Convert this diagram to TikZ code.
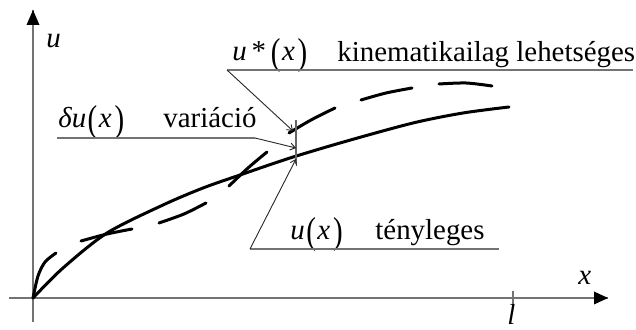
\documentclass[tikz,border=0pt]{standalone}
\usepackage{fontspec}
\usepackage{graphicx}
\setmainfont{Liberation Serif}
\usetikzlibrary{arrows.meta}
\newcommand\pa[1]{\raisebox{-0.12em}{\scalebox{1}[1.3]{#1}}}
\begin{document}
\begin{tikzpicture}[x=0.5pt,y=-0.5pt,
  lbl/.style={anchor=base west,inner sep=0pt,font=\fontsize{14.45}{17}\selectfont},
  axis/.style={draw=black!55,line width=0.75pt},
  uline/.style={draw=black!55,line width=0.75pt},
  leader/.style={draw=black!85,line width=0.45pt,-{Straight Barb[length=2.5pt,width=3.5pt]}},
  curve/.style={line width=1.5pt,line cap=round,line join=round}]
\useasboundingbox (0,0) rectangle (636,330);
% axes
\coordinate (O) at (33,298);
\coordinate (ybot) at (33,322);
\coordinate (ytop) at (33,10);
\coordinate (xl) at (9,298);
\coordinate (xr) at (608,298);
\draw[axis] (ybot) -- (ytop);
\draw[axis] (xl) -- (xr);
\fill[black] (ytop) -- ++(-6.5,15) -- ++(13,0) -- cycle;
\fill[black] (xr) -- ++(-14,-6.5) -- ++(0,13) -- cycle;
\coordinate (t1) at (513,291);
\coordinate (t2) at (513,304);
\draw[axis] (t1) -- (t2);
\node[lbl] (ulab) at (46,48) {\textit{u}};
\node[lbl] (xlab) at (578,285) {\textit{x}};
\node[lbl] (llab) at (507,325) {\textit{l}};
% solid curve
\draw[curve] plot[smooth] coordinates {(33,298) (63,268) (107,233) (163,205) (203,188) (240,175) (290,158) (347,141) (413,123) (463,113) (509,107)};
% dashed curve
\draw[curve] plot[smooth] coordinates {(33,298) (38,276) (45,262) (56,253)};
\draw[curve] plot[smooth] coordinates {(81,241) (107,234) (132,229)};
\draw[curve] plot[smooth] coordinates {(159,223) (184,214) (206,203)};
\draw[curve] plot[smooth] coordinates {(229,186) (248,168) (267,152)};
\draw[curve] plot[smooth] coordinates {(289,133) (311,120) (335,108)};
\draw[curve] plot[smooth] coordinates {(361,100) (386,93) (412,88)};
\draw[curve] plot[smooth] coordinates {(439,84) (466,83) (492,86)};
% delta u segment
\coordinate (dtop) at (296,120);
\coordinate (dbot) at (296,164);
\draw[draw=black!60,line width=0.6pt] (dtop) -- (dbot);
% labels
\node[lbl] (ustar) at (232,61) {\textit{u}\,*\,\pa(\kern0.05em\textit{x}\kern0.1em\pa)};
\node[lbl] (kin) at (337,62) {kinematikailag lehetséges};
\coordinate (usL) at (227,70);
\coordinate (usR) at (633,70);
\coordinate (usT) at (293,131);
\draw[uline] (usL) -- (usR);
\draw[leader] (usL) -- (usT);
\node[lbl] (du) at (58,128) {\textit{δu}\kern0.05em\pa(\kern0.05em\textit{x}\kern0.1em\pa)};
\node[lbl] (var) at (163,128) {variáció};
\coordinate (duL) at (57,138);
\coordinate (duR) at (255,138);
\coordinate (duT) at (296,148);
\draw[uline] (duL) -- (duR);
\draw[leader] (duR) -- (duT);
\node[lbl] (ux) at (290,240) {\textit{u}\kern0.05em\pa(\kern0.05em\textit{x}\kern0.1em\pa)};
\node[lbl] (teny) at (375,240) {tényleges};
\coordinate (uxL) at (250,249);
\coordinate (uxR) at (499,249);
\coordinate (uxT) at (296,159);
\draw[uline] (uxL) -- (uxR);
\draw[leader] (uxL) -- (uxT);
\end{tikzpicture}
\end{document}
